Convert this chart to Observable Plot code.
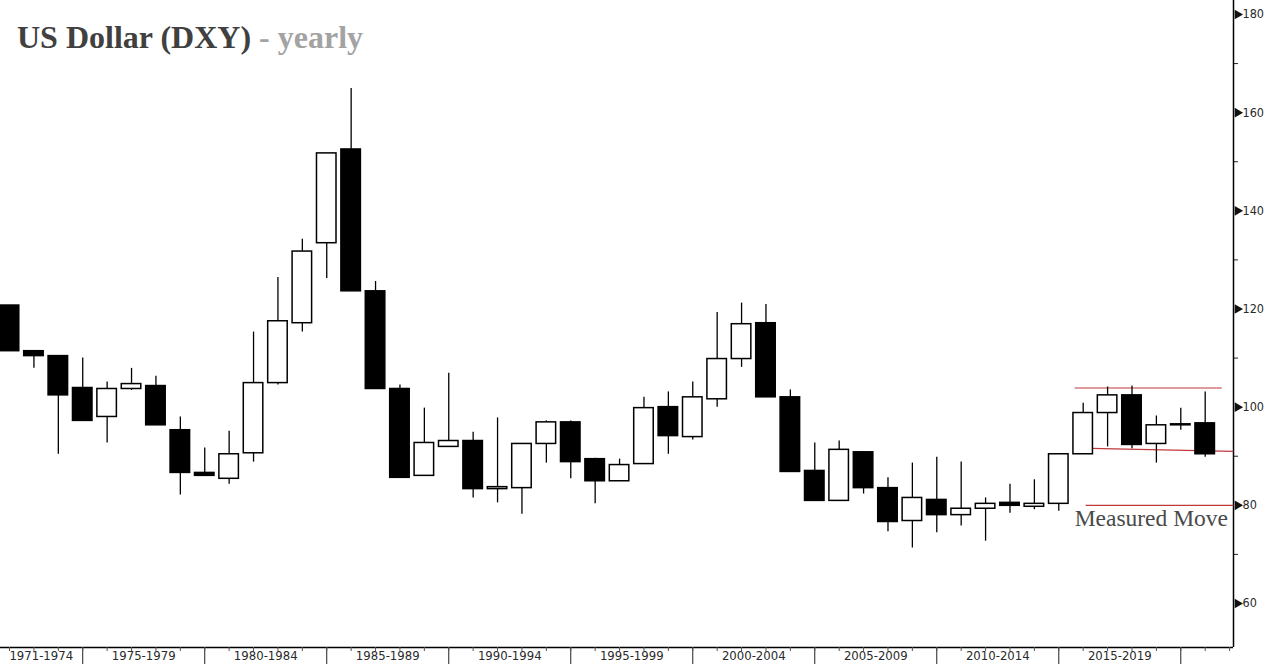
<!DOCTYPE html>
<html>
<head>
<meta charset="utf-8">
<script src="https://cdn.jsdelivr.net/npm/d3@7"></script>
<script src="https://cdn.jsdelivr.net/npm/@observablehq/plot@0.6"></script>
<style>
  html, body { margin: 0; padding: 0; background: #fff; }
  #wrap { position: relative; width: 1265px; height: 664px; overflow: hidden; }
  #title { position: absolute; left: 17px; top: 21px; font-family: "Liberation Serif", "Times New Roman", serif; font-weight: bold; font-size: 32px; line-height: 1; color: #404040; white-space: nowrap; }
  #title span { color: #a3a3a3; }
</style>
</head>
<body>
<div id="wrap">
  <div id="chart"></div>
  <div id="title">US Dollar (DXY) <span>- yearly</span></div>
</div>
<script>
// Yearly candles
const years = [1971,1972,1973,1974,1975,1976,1977,1978,1979,1980,1981,1982,1983,1984,1985,1986,1987,1988,1989,1990,1991,1992,1993,1994,1995,1996,1997,1998,1999,2000,2001,2002,2003,2004,2005,2006,2007,2008,2009,2010,2011,2012,2013,2014,2015,2016,2017,2018,2019,2020];
const opens  = [120.7,111.4,110.4,103.9,98.0,103.7,104.3,95.3,86.6,85.4,90.6,104.9,117.1,133.4,152.5,123.6,103.7,86.0,91.9,93.1,83.3,83.5,92.5,96.9,89.4,84.9,88.4,100.0,93.9,101.6,109.8,117.1,102.0,87.0,80.9,90.8,83.5,76.8,81.1,78.0,79.3,80.5,79.7,80.3,90.4,98.8,102.4,92.5,96.5,96.7];
const highs  = [120.7,111.4,110.4,110.0,105.1,107.9,106.3,98.0,91.7,95.1,115.3,126.4,134.2,151.7,164.9,125.6,104.5,99.8,106.9,94.9,97.8,92.5,97.2,97.2,89.6,89.4,102.0,103.1,105.1,119.3,121.2,120.9,103.5,92.7,93.1,90.8,85.6,88.6,89.8,88.8,81.5,84.3,85.2,90.4,100.8,104.1,104.3,98.2,99.8,103.1];
const lows   = [111.4,107.9,90.4,97.2,92.7,103.4,96.3,82.1,86.0,84.3,88.8,104.5,115.3,126.2,123.6,103.7,85.6,86.0,91.9,81.5,80.5,78.2,88.6,85.4,80.3,84.9,88.4,90.4,93.3,100.0,108.1,102.0,86.8,80.9,80.9,82.3,74.6,71.3,74.4,75.8,72.7,78.4,79.1,78.8,90.4,91.9,91.5,88.6,95.3,89.8];
const closes = [111.4,110.4,102.4,97.2,103.7,104.7,96.3,86.6,86.0,90.4,104.9,117.5,131.7,151.7,123.6,103.7,85.6,92.7,93.1,83.3,83.7,92.5,96.9,88.8,84.9,88.2,99.8,94.1,102.0,109.8,116.9,102.0,86.8,80.9,91.3,83.5,76.6,81.5,78.0,79.3,80.3,79.9,80.3,90.4,98.8,102.4,92.3,96.3,96.3,90.4];

// Axis ticks / labels
const groupBounds = [1974,1979,1984,1989,1994,1999,2004,2009,2014,2019];
const groupLabels = ["1971-1974","1975-1979","1980-1984","1985-1989","1990-1994","1995-1999","2000-2004","2005-2009","2010-2014","2015-2019"];
const groupLabelPos = [1972.3,1976.5,1981.5,1986.5,1991.5,1996.5,2001.5,2006.5,2011.5,2016.5];
const yearTicks = d3.range(1971, 2022);
const yMajor = [60,80,100,120,140,160,180];
const yMinor = [70,90,110,130,150,170];

// "Measured Move" annotation lines
const mmX1 = [2014.65, 2015.3, 2015.1];
const mmX2 = [2020.68, 2021.16, 2021.16];
const mmY1 = [103.9, 91.6, 80.0];
const mmY2 = [103.9, 91.0, 80.0];
const mmLabel = "Measured Move";

const xDomain = [1970.63, 2021.16];
const yDomain = [51.03, 182.85];

const candles = years.map((yr, i) => ({year: yr, open: opens[i], high: highs[i], low: lows[i], close: closes[i]}));
const mmLines = mmX1.map((x, i) => ({x1: x, x2: mmX2[i], y1: mmY1[i], y2: mmY2[i]}));
const labelMap = new Map(groupLabelPos.map((p, i) => [p, groupLabels[i]]));

const axisFont = "'DejaVu Sans Condensed', 'DejaVu Sans', sans-serif";

const chart = Plot.plot({
  width: 1265,
  height: 664,
  marginLeft: 0,
  marginRight: 32,
  marginTop: 0,
  marginBottom: 17,
  style: {background: "#fff", color: "#222", fontFamily: axisFont},
  x: {type: "linear", domain: xDomain},
  y: {type: "linear", domain: yDomain},
  marks: [
    // frame lines
    Plot.ruleX([xDomain[1]], {stroke: "#000", strokeWidth: 1.5}),
    Plot.ruleY([yDomain[0]], {stroke: "#000", strokeWidth: 1.5}),
    // bottom axis: group separators, yearly minor ticks, group labels
    Plot.axisX({ticks: groupBounds, tickSize: 17, tickFormat: () => "", stroke: "#222"}),
    Plot.axisX({ticks: yearTicks, tickSize: 4, tickFormat: () => "", stroke: "#555"}),
    Plot.axisX({ticks: groupLabelPos, tickSize: 0, tickPadding: 3, tickFormat: d => labelMap.get(d), fontSize: 13, fill: "#2a2a2a"}),
    // right axis
    Plot.axisY({anchor: "right", ticks: yMinor, tickSize: 4, tickFormat: () => "", stroke: "#222"}),
    Plot.axisY({anchor: "right", ticks: yMajor, tickSize: 0, tickPadding: 9, fontSize: 12.5, fill: "#2a2a2a", textAnchor: "start"}),
    Plot.dot(yMajor, {y: d => d, frameAnchor: "right", dx: 4, symbol: "triangle", rotate: 90, r: 3.6, fill: "#111", stroke: null}),
    // measured move lines
    Plot.link(mmLines, {x1: "x1", y1: "y1", x2: "x2", y2: "y2", stroke: "#c0393b", strokeWidth: 1.2}),
    Plot.text([mmLabel], {x: mmX1[0], y: 77.3, text: d => d, textAnchor: "start", lineAnchor: "middle", fontFamily: "'Liberation Serif', 'Times New Roman', serif", fontSize: 23.5, fill: "#4a4a4a"}),
    // candles
    Plot.ruleX(candles, {x: "year", y1: "low", y2: "high", stroke: "#000", strokeWidth: 1.3}),
    Plot.rect(candles, {
      x1: d => d.year - 0.4,
      x2: d => d.year + 0.4,
      y1: d => Math.min(d.open, d.close),
      y2: d => Math.max(d.open, d.close),
      fill: d => d.close >= d.open ? "#fff" : "#000",
      stroke: "#000",
      strokeWidth: 1.5
    })
  ]
});
document.getElementById("chart").appendChild(chart);
</script>
</body>
</html>
